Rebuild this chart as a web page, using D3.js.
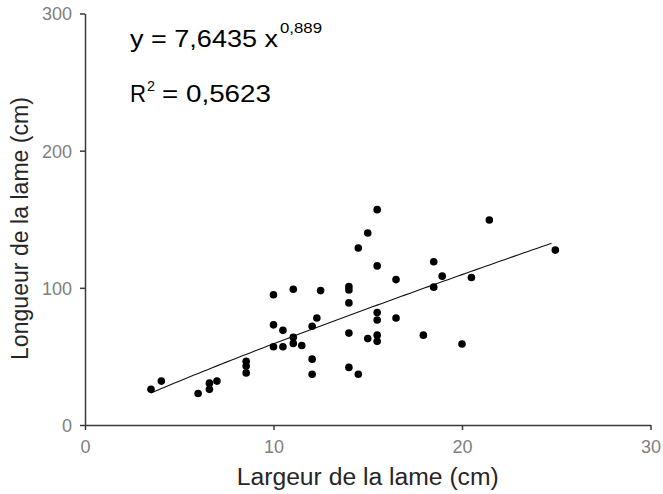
<!DOCTYPE html>
<html><head><meta charset="utf-8">
<script src="https://cdn.jsdelivr.net/npm/d3@7"></script>
<style>html,body{margin:0;padding:0;background:#fff;}svg{display:block;}</style>
</head><body>
<svg id="c" width="663" height="494"></svg>
<script>
const xTicks = [0, 10, 20, 30];
const yTicks = [0, 100, 200, 300];
const largeur = [3.5, 4.05, 6.0, 6.6, 6.6, 7.0, 8.55, 8.55, 8.55, 10.0, 10.0, 10.0, 10.5, 10.5, 11.05, 11.05, 11.05, 11.5, 12.05, 12.05, 12.05, 12.3, 12.5, 14.0, 14.0, 14.0, 14.0, 14.0, 14.5, 14.5, 15.0, 15.5, 15.5, 15.0, 15.5, 15.5, 15.5, 15.5, 16.5, 16.5, 17.95, 18.5, 18.5, 18.95, 20.0, 20.5, 21.45, 24.95];
const longueur = [26, 32, 23, 26, 30.5, 32, 38, 43, 46.5, 95, 73, 57, 69, 57, 99, 64, 59.5, 58, 72, 48, 37, 78, 98, 101, 98.5, 89, 67, 42, 37, 129, 140, 157, 116, 63, 82, 76.5, 65.5, 61, 106, 78, 65.5, 119, 100.5, 108.5, 59, 107.5, 149.5, 127.5];
const coefA = 7.6435, coefB = 0.889;
const eqMain = "y = 7,6435 x", eqExp = "0,889";
const r2Main = "R", r2Sup = "2", r2Val = "= 0,5623";
const xTitle = "Largeur de la lame (cm)";
const yTitle = "Longueur de la lame (cm)";

const svg = d3.select("#c");
const x = d3.scaleLinear().domain([0, 30]).range([85, 650.5]);
const y = d3.scaleLinear().domain([0, 300]).range([425, 13.5]);
const font = "'Liberation Sans', Arial, sans-serif";
const axisCol = "#3a3a3a", tickCol = "#808080", titleCol = "#262626";

// axes
const gx = svg.append("g").attr("transform", `translate(0,${y(0)})`)
  .call(d3.axisBottom(x).tickValues(xTicks).tickSize(5).tickSizeOuter(0).tickFormat(d3.format("d")));
const gy = svg.append("g").attr("transform", `translate(${x(0)},0)`)
  .call(d3.axisLeft(y).tickValues(yTicks).tickSize(5).tickSizeOuter(0).tickFormat(d3.format("d")));
[gx, gy].forEach(g => {
  g.select(".domain").attr("stroke", axisCol).attr("stroke-width", 1.5);
  g.selectAll(".tick line").attr("stroke", axisCol).attr("stroke-width", 1.5);
  g.selectAll(".tick text").attr("fill", tickCol).attr("font-family", font).attr("font-size", 18);
});
gx.selectAll(".tick text").attr("y", 15).attr("dy", "0.71em");
gy.selectAll(".tick text").attr("x", -13).attr("dy", "0.36em");

// trend line
const xs = d3.range(d3.min(largeur), d3.max(largeur) + 0.001, 0.25);
svg.append("path")
  .datum(xs)
  .attr("fill", "none").attr("stroke", "#111").attr("stroke-width", 1.1)
  .attr("d", d3.line().x(d => x(d)).y(d => y(coefA * Math.pow(d, coefB))));

// points
svg.append("g").selectAll("circle").data(largeur).join("circle")
  .attr("cx", d => x(d)).attr("cy", (d, i) => y(longueur[i]))
  .attr("r", 3.8).attr("fill", "#000");

// titles
svg.append("text").attr("x", (x(0) + x(30)) / 2).attr("y", 485)
  .attr("text-anchor", "middle").attr("font-family", font).attr("font-size", 23)
  .attr("fill", titleCol).attr("textLength", 262).attr("lengthAdjust", "spacingAndGlyphs").text(xTitle);
svg.append("text").attr("transform", "translate(28,228.5) rotate(-90)")
  .attr("text-anchor", "middle").attr("font-family", font).attr("font-size", 23)
  .attr("fill", titleCol).attr("textLength", 263).attr("lengthAdjust", "spacingAndGlyphs").text(yTitle);

// equation
const eq = svg.append("g").attr("font-family", font).attr("fill", "#000");
eq.append("text").attr("x", 130).attr("y", 47).attr("font-size", 24)
  .attr("textLength", 148).attr("lengthAdjust", "spacingAndGlyphs").text(eqMain);
eq.append("text").attr("x", 280).attr("y", 33).attr("font-size", 14)
  .attr("textLength", 42).attr("lengthAdjust", "spacingAndGlyphs").text(eqExp);
eq.append("text").attr("x", 130).attr("y", 102).attr("font-size", 24)
  .attr("textLength", 16).attr("lengthAdjust", "spacingAndGlyphs").text(r2Main);
eq.append("text").attr("x", 147).attr("y", 91).attr("font-size", 14)
  .attr("textLength", 8).attr("lengthAdjust", "spacingAndGlyphs").text(r2Sup);
eq.append("text").attr("x", 162).attr("y", 102).attr("font-size", 24)
  .attr("textLength", 109).attr("lengthAdjust", "spacingAndGlyphs").text(r2Val);
</script>
</body></html>
